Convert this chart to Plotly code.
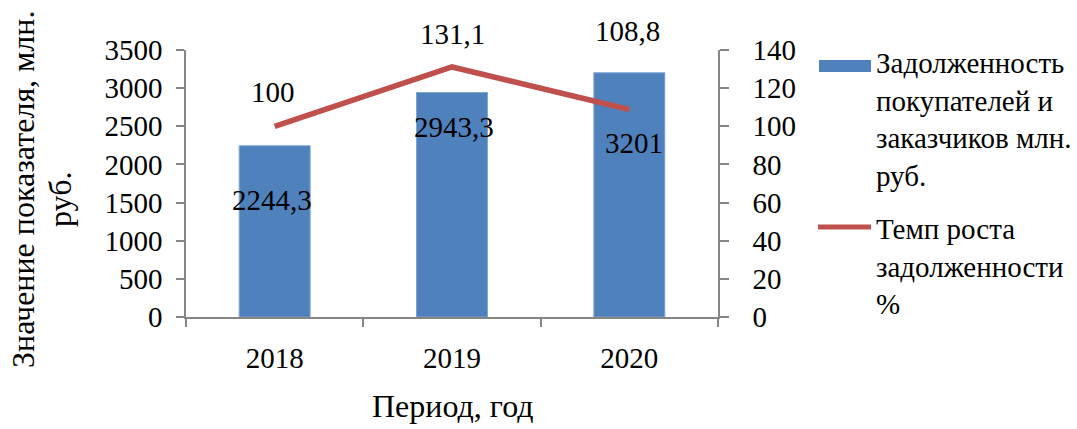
import plotly.graph_objects as go

years = ["2018", "2019", "2020"]
debt = [2244.3, 2943.3, 3201]          # млн. руб.
growth = [100, 131.1, 108.8]           # %
debt_labels = ["2244,3", "2943,3", "3201"]
growth_labels = ["100", "131,1", "108,8"]

left_ticks = list(range(0, 3501, 500))
right_ticks = list(range(0, 141, 20))

FONT = "Liberation Serif"
FS = 29
FS_TITLE = 32
BLUE = "#4F81BD"
RED = "#C0504D"
AXIS = "#868686"

fig = go.Figure()
fig.add_trace(go.Bar(
    x=years, y=debt, marker=dict(color=BLUE, line=dict(color="#7FA3D3", width=1)),
    name="Задолженность покупателей и заказчиков млн. руб.", yaxis="y",
))
fig.add_trace(go.Scatter(
    x=years, y=growth, mode="lines", line=dict(color=RED, width=5.5),
    name="Темп роста задолженности %", yaxis="y2",
))

annotations = []
# bar value labels (pixel offsets relative to bar tops); x given as category index
bar_shift = [(-3, -54), (2, -35), (5, -70)]
for i, (v, t, (dx, dy)) in enumerate(zip(debt, debt_labels, bar_shift)):
    annotations.append(dict(x=i, y=v, xref="x", yref="y", text=t, showarrow=False,
                            xshift=dx, yshift=dy, font=dict(family=FONT, size=FS, color="black")))
# line value labels
line_shift = [(-2, 34), (0, 33), (-2, 79)]
for i, (v, t, (dx, dy)) in enumerate(zip(growth, growth_labels, line_shift)):
    annotations.append(dict(x=i, y=v, xref="x", yref="y2", text=t, showarrow=False,
                            xshift=dx, yshift=dy, font=dict(family=FONT, size=FS, color="black")))

W, H = 1077, 429
L, R, T, B = 186, 718, 50, 317


def paper(x, y):
    return (x - L) / (R - L), (B - y) / (B - T)


def text_at(x, y, text, size=FS, **kw):
    px, py = paper(x, y)
    d = dict(x=px, y=py, xref="paper", yref="paper", text=text, showarrow=False,
             font=dict(family=FONT, size=size, color="black"))
    d.update(kw)
    return d


# axis titles
annotations.append(text_at(23, 190, "Значение показателя, млн.", size=FS_TITLE, textangle=-90,
                           xanchor="center", yanchor="middle"))
annotations.append(text_at(60, 200, "руб.", size=FS_TITLE, textangle=-90,
                           xanchor="center", yanchor="middle"))
annotations.append(text_at(452, 406, "Период, год", size=FS_TITLE,
                           xanchor="center", yanchor="middle", borderpad=0))

# legend text
annotations.append(text_at(874, 45, "Задолженность<br>покупателей и<br>заказчиков млн.<br>руб.",
                           xanchor="left", yanchor="top", align="left"))
annotations.append(text_at(874, 211, "Темп роста<br>задолженности<br>%",
                           xanchor="left", yanchor="top", align="left"))

rx0, ry0 = paper(819, 72)
rx1, ry1 = paper(871, 60)
lx0, ly = paper(818, 227)
lx1, _ = paper(871, 227)
shapes = [
    dict(type="rect", xref="paper", yref="paper", x0=rx0, x1=rx1, y0=ry0, y1=ry1,
         fillcolor=BLUE, line=dict(width=0)),
    dict(type="line", xref="paper", yref="paper", x0=lx0, x1=lx1, y0=ly, y1=ly,
         line=dict(color=RED, width=5)),
]

fig.update_layout(
    width=W, height=H,
    margin=dict(l=L, r=W - R, t=T, b=H - B, pad=0),
    paper_bgcolor="white", plot_bgcolor="white",
    showlegend=False,
    bargap=0.6,
    font=dict(family=FONT, size=FS, color="black"),
    xaxis=dict(
        type="category", range=[-0.5, 2.5], showline=True, linecolor=AXIS, linewidth=1.5,
        ticks="outside", tickson="boundaries", ticklen=8, tickcolor=AXIS, tickwidth=1.5,
        showgrid=False, tickfont=dict(family=FONT, size=FS, color="black"),
        ticklabelstandoff=14,
    ),
    yaxis=dict(
        range=[0, 3500], tickvals=left_ticks, ticktext=[str(v) for v in left_ticks],
        showline=True, linecolor=AXIS, linewidth=1.5, ticks="outside", ticklen=8,
        tickcolor=AXIS, tickwidth=1.5, showgrid=False, zeroline=False,
        tickfont=dict(family=FONT, size=FS, color="black"), ticklabelstandoff=8,
    ),
    yaxis2=dict(
        range=[0, 140], tickvals=right_ticks, ticktext=[str(v) for v in right_ticks],
        overlaying="y", side="right",
        showline=True, linecolor=AXIS, linewidth=1.5, ticks="outside", ticklen=9,
        tickcolor=AXIS, tickwidth=1.5, showgrid=False, zeroline=False,
        tickfont=dict(family=FONT, size=FS, color="black"), ticklabelstandoff=18,
    ),
    annotations=annotations,
    shapes=shapes,
)

fig.write_html("out.html")
